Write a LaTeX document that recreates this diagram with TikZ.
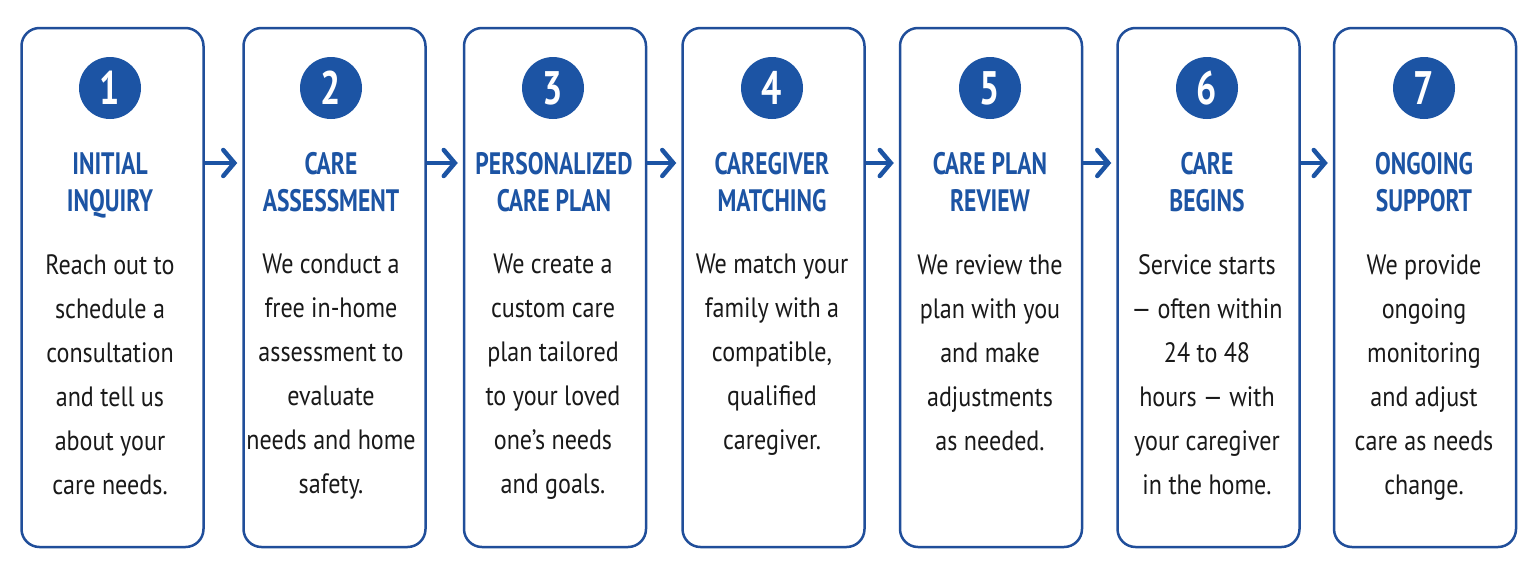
\documentclass[tikz,border=0pt]{standalone}
\usepackage{fontspec}
\usetikzlibrary{arrows.meta}
\newfontfamily\bodyfont{PT Sans}[FakeStretch=0.86]
\newfontfamily\headfont{PT Sans}[FakeStretch=0.76]
\definecolor{careblue}{RGB}{28,84,164}
\definecolor{edgeblue}{RGB}{32,78,154}

\tikzset{
  stepbox/.style={draw=edgeblue, line width=2.5pt, rounded corners=18pt, fill=white,
    minimum width=182pt, minimum height=519pt, inner sep=0pt},
  num/.style={circle, fill=careblue, text=white, minimum size=62pt, inner sep=0pt,
    font=\headfont\bfseries\fontsize{47}{47}\selectfont},
  head/.style={anchor=north, align=center, inner sep=0pt, text=careblue,
    font=\headfont\bfseries\fontsize{31}{37}\selectfont},
  body/.style={anchor=north, align=center, inner sep=0pt, text=black!90,
    font=\bodyfont\fontsize{28}{44}\selectfont},
  flow/.style={draw=careblue, line width=4.5pt, -{Straight Barb[length=11pt,width=26pt,line cap=round]}, shorten >=5pt}
}

\begin{document}
\begin{tikzpicture}[x=1pt, y=-1pt]
        \useasboundingbox (0,0) rectangle (1536,576);

        \node[stepbox] (s1) at (112.5,287.5) {};
        \node[stepbox] (s2) at (334.5,287.5) {};
        \node[stepbox] (s3) at (555,287.5) {};
        \node[stepbox] (s4) at (773.5,287.5) {};
        \node[stepbox] (s5) at (991,287.5) {};
        \node[stepbox] (s6) at (1208.5,287.5) {};
        \node[stepbox] (s7) at (1425,287.5) {};

        \node[num] (n1) at (110,88) {1};
        \node[num] (n2) at (331,88) {2};
        \node[num] (n3) at (553,88) {3};
        \node[num] (n4) at (772,88) {4};
        \node[num] (n5) at (990,88) {5};
        \node[num] (n6) at (1207,88) {6};
        \node[num] (n7) at (1424,88) {7};

        \node[head] (t1) at (110,152) {INITIAL\\INQUIRY};
        \node[head] (t2) at (331,152) {CARE\\ASSESSMENT};
        \node[head] (t3) at (554,152) {PERSONALIZED\\CARE PLAN};
        \node[head] (t4) at (772,152) {CAREGIVER\\MATCHING};
        \node[head] (t5) at (990,152) {CARE PLAN\\REVIEW};
        \node[head] (t6) at (1207,152) {CARE\\BEGINS};
        \node[head] (t7) at (1424,152) {ONGOING\\SUPPORT};

        \node[body] (b1) at (110,254) {Reach out to\\schedule a\\consultation\\and tell us\\about your\\care needs.};
        \node[body] (b2) at (331,254) {We conduct a\\free in-home\\assessment to\\evaluate\\needs and home\\safety.};
        \node[body] (b3) at (553,254) {We create a\\custom care\\plan tailored\\to your loved\\one’s needs\\and goals.};
        \node[body] (b4) at (772,254) {We match your\\family with a\\compatible,\\qualified\\caregiver.};
        \node[body] (b5) at (990,254) {We review the\\plan with you\\and make\\adjustments\\as needed.};
        \node[body] (b6) at (1207,254) {Service starts\\— often within\\24 to 48\\hours — with\\your caregiver\\in the home.};
        \node[body] (b7) at (1424,254) {We provide\\ongoing\\monitoring\\and adjust\\care as needs\\change.};

        \draw[flow] ([yshift=124.5pt]s1.east) -- ([yshift=124.5pt]s2.west);
        \draw[flow] ([yshift=124.5pt]s2.east) -- ([yshift=124.5pt]s3.west);
        \draw[flow] ([yshift=124.5pt]s3.east) -- ([yshift=124.5pt]s4.west);
        \draw[flow] ([yshift=124.5pt]s4.east) -- ([yshift=124.5pt]s5.west);
        \draw[flow] ([yshift=124.5pt]s5.east) -- ([yshift=124.5pt]s6.west);
        \draw[flow] ([yshift=124.5pt]s6.east) -- ([yshift=124.5pt]s7.west);
    \end{tikzpicture}
\end{document}
